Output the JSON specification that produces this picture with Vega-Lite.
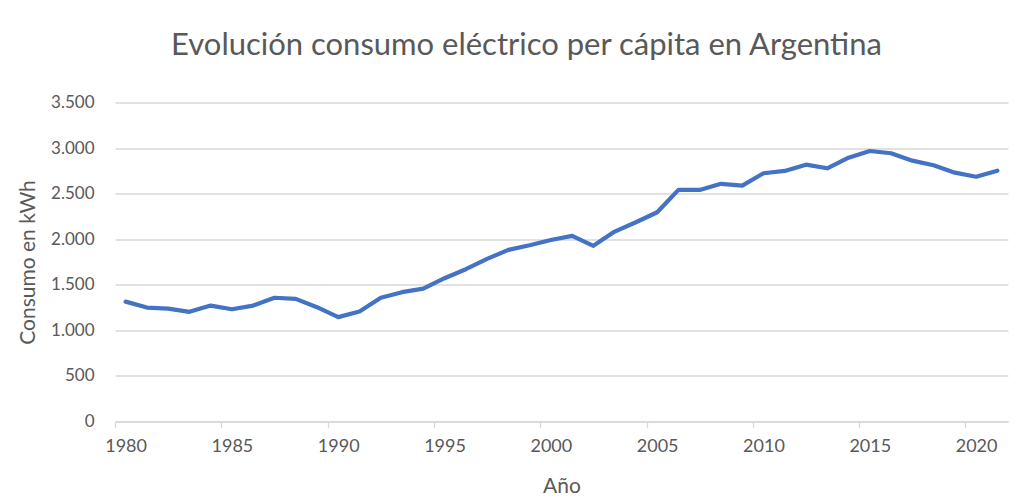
{
  "$schema": "https://vega.github.io/schema/vega-lite/v6.json",
  "autosize": "none",
  "width": 893,
  "height": 319,
  "padding": {"left": 115, "top": 102.5, "right": 24, "bottom": 80.3},
  "background": "white",
  "title": {
    "text": "Evolución consumo eléctrico per cápita en Argentina",
    "font": "Lato",
    "fontSize": 31,
    "fontWeight": "normal",
    "color": "#595959",
    "anchor": "middle",
    "frame": "group",
    "dx": -35,
    "baseline": "alphabetic",
    "offset": 7
  },
  "data": {
    "values": [
      {"year": 1980, "kwh": 1315},
      {"year": 1981, "kwh": 1250},
      {"year": 1982, "kwh": 1239},
      {"year": 1983, "kwh": 1203},
      {"year": 1984, "kwh": 1272},
      {"year": 1985, "kwh": 1232},
      {"year": 1986, "kwh": 1272},
      {"year": 1987, "kwh": 1358},
      {"year": 1988, "kwh": 1345},
      {"year": 1989, "kwh": 1254},
      {"year": 1990, "kwh": 1145},
      {"year": 1991, "kwh": 1206},
      {"year": 1992, "kwh": 1358},
      {"year": 1993, "kwh": 1419},
      {"year": 1994, "kwh": 1458},
      {"year": 1995, "kwh": 1572},
      {"year": 1996, "kwh": 1671},
      {"year": 1997, "kwh": 1784},
      {"year": 1998, "kwh": 1883},
      {"year": 1999, "kwh": 1934},
      {"year": 2000, "kwh": 1992},
      {"year": 2001, "kwh": 2036},
      {"year": 2002, "kwh": 1927},
      {"year": 2003, "kwh": 2084},
      {"year": 2004, "kwh": 2186},
      {"year": 2005, "kwh": 2296},
      {"year": 2006, "kwh": 2541},
      {"year": 2007, "kwh": 2541},
      {"year": 2008, "kwh": 2608},
      {"year": 2009, "kwh": 2588},
      {"year": 2010, "kwh": 2724},
      {"year": 2011, "kwh": 2749},
      {"year": 2012, "kwh": 2818},
      {"year": 2013, "kwh": 2778},
      {"year": 2014, "kwh": 2895},
      {"year": 2015, "kwh": 2968},
      {"year": 2016, "kwh": 2943},
      {"year": 2017, "kwh": 2862},
      {"year": 2018, "kwh": 2811},
      {"year": 2019, "kwh": 2730},
      {"year": 2020, "kwh": 2686},
      {"year": 2021, "kwh": 2752}
    ]
  },
  "mark": {
    "type": "line",
    "color": "#4472C4",
    "strokeWidth": 4.2,
    "strokeCap": "round",
    "strokeJoin": "round"
  },
  "encoding": {
    "x": {
      "field": "year",
      "type": "quantitative",
      "scale": {"domain": [1979.5, 2021.5], "nice": false, "zero": false},
      "axis": {
        "title": "Año",
        "values": [1979.5, 1984.5, 1989.5, 1994.5, 1999.5, 2004.5, 2009.5, 2014.5, 2019.5],
        "labelExpr": "format(datum.value + 0.5, 'd')",
        "labelOffset": 10.6,
        "labelFlush": false,
        "labelOverlap": false,
        "grid": false,
        "domainColor": "#d9d9d9",
        "domainWidth": 1.3,
        "tickColor": "#d9d9d9",
        "tickWidth": 1.3,
        "tickSize": 6,
        "labelPadding": 10,
        "labelFont": "Lato",
        "labelFontSize": 18,
        "labelColor": "#595959",
        "titleFont": "Lato",
        "titleFontSize": 21,
        "titleFontWeight": "normal",
        "titleColor": "#595959",
        "titlePadding": 20
      }
    },
    "y": {
      "field": "kwh",
      "type": "quantitative",
      "scale": {"domain": [0, 3500], "nice": false},
      "axis": {
        "title": "Consumo en kWh",
        "values": [0, 500, 1000, 1500, 2000, 2500, 3000, 3500],
        "labelExpr": "replace(format(datum.value, ','), ',', '.')",
        "domain": false,
        "ticks": false,
        "tickSize": 0,
        "labelPadding": 21,
        "gridColor": "#d9d9d9",
        "gridWidth": 1.3,
        "labelFont": "Lato",
        "labelFontSize": 17,
        "labelColor": "#595959",
        "titleFont": "Lato",
        "titleFontSize": 21,
        "titleFontWeight": "normal",
        "titleColor": "#595959",
        "titlePadding": 12
      }
    }
  },
  "config": {
    "view": {"stroke": null}
  }
}
